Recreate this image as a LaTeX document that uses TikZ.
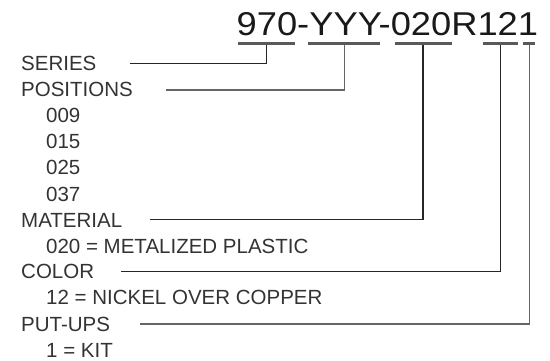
\documentclass[tikz,border=0pt]{standalone}
\usepackage{fontspec}
\setmainfont{Liberation Sans}
\definecolor{txtgray}{HTML}{333333}
\begin{document}
\begin{tikzpicture}[
                x=1pt, y=-1pt,
                label/.style = {anchor=base west, inner sep=0pt, text=txtgray, font=\fontsize{20.5}{24}\selectfont},
                partno/.style = {anchor=base west, inner sep=0pt, text=black!90, font=\fontsize{33}{40}\selectfont},
                underline/.style = {line width=3pt, black!65},
                leader/.style = {line width=1.1pt, black!85},
                lightleader/.style = {line width=1.3pt, black!60}
        ]
        \useasboundingbox (0,0) rectangle (550,361);
        \node[partno] (pn) at (236.5,35.5) {\scalebox{1.1}[1]{970-YYY-020R121}};
        \node[label] (series) at (21,71) {SERIES};
        \node[label] (positions) at (21,97) {POSITIONS};
        \foreach \p [count=\i] in {009,015,025,037}
                \node[label] (pos\i) at (46,97+26*\i) {\p};
        \node[label] (material) at (21,227) {MATERIAL};
        \node[label] (matval) at (46,253) {020 = METALIZED PLASTIC};
        \node[label] (color) at (21,279) {COLOR};
        \node[label] (colval) at (46,305) {12 = NICKEL OVER COPPER};
        \node[label] (putups) at (21,331) {PUT-UPS};
        \node[label] (putval) at (46,357) {1 = KIT};
        \coordinate (useries) at (266.5,43.5);
        \coordinate (upos) at (344.5,43.5);
        \coordinate (umat) at (423,43.5);
        \coordinate (ucol) at (500.5,43.5);
        \coordinate (uput) at (529.5,43.5);
        \draw[leader] ([xshift=33pt]series.east) -| (useries);
        \draw[lightleader] ([xshift=33pt]positions.east) -| (upos);
        \draw[leader] ([xshift=28pt]material.east) -| (umat);
        \draw[leader] ([xshift=27pt]color.east) -| (ucol);
        \draw[lightleader, line width=1.6pt] ([xshift=30pt]putups.east) -| (uput);
        \draw[underline] (238,43.5) -- (295,43.5);
        \draw[underline] (308,43.5) -- (380,43.5);
        \draw[underline] (395,43.5) -- (452,43.5);
        \draw[underline] (483,43.5) -- (518,43.5);
        \draw[underline] (523,43.5) -- (535,43.5);
\end{tikzpicture}
\end{document}
